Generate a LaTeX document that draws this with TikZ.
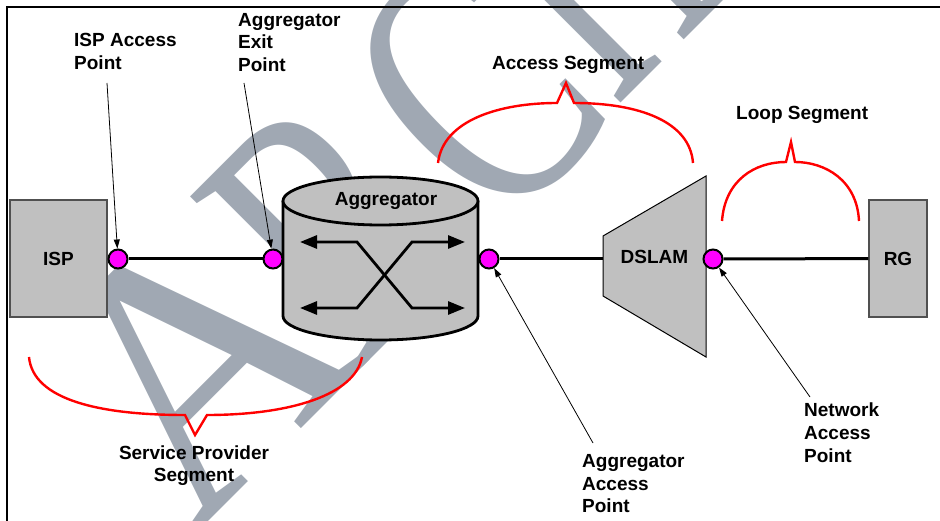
\documentclass[tikz,border=0pt]{standalone}
\usepackage{fontspec}
\setmainfont{Liberation Sans}
\newfontfamily\wmfont{Liberation Serif}
\usetikzlibrary{arrows.meta}
\definecolor{boxgrey}{RGB}{192,192,192}
\definecolor{wmgrey}{RGB}{160,168,179}
\definecolor{edgegrey}{RGB}{80,80,80}
\definecolor{apink}{RGB}{255,0,255}
\definecolor{segred}{RGB}{255,0,0}
\begin{document}
\begin{tikzpicture}[x=1pt,y=-1pt,
  lbl/.style={font=\bfseries\fontsize{19pt}{22.7pt}\selectfont, inner sep=0pt},
  wm/.style={anchor=base west, rotate=45, inner sep=0pt, text=wmgrey,
             font=\wmfont\fontsize{370pt}{370pt}\selectfont},
  unitbox/.style={draw=edgegrey, line width=1.2pt, fill=boxgrey, inner sep=0pt,
             font=\bfseries\fontsize{19pt}{22.7pt}\selectfont},
  apdot/.style={circle, draw=black, line width=2pt, fill=apink,
             minimum size=19pt, inner sep=0pt},
  link/.style={line width=3pt},
  pointer/.style={line width=0.8pt, -{Triangle[length=9pt,width=6pt]}},
  swarrow/.style={line width=2.8pt, {Triangle[length=17pt,width=13pt]}-{Triangle[length=17pt,width=13pt]}},
  brace/.style={draw=segred, line width=2.4pt, line join=miter},
  frameline/.style={line width=2pt}]
\useasboundingbox (0,0) rectangle (940,521);

% background watermark lettering
\begin{scope}
  \clip (0,0) rectangle (940,521);
  \node[wm, xscale=0.95] (wmA) at (192.5,537.5) {A};
  \node[wm, xscale=0.70] (wmR) at (356.5,373.5) {R};
  \node[wm, xscale=0.70] (wmC) at (499,237) {C};
  \node[wm, xscale=0.60] (wmH) at (616,108) {H};
\end{scope}

% page frame
\draw[frameline] (7,521) -- (7,7) -- (940,7);

% end boxes
\node[unitbox, minimum width=97pt, minimum height=117pt] (isp) at (58.5,258.5) {ISP};
\node[unitbox, minimum width=58pt, minimum height=117pt] (rg) at (898,258.5) {RG};

% aggregator cylinder
\fill[boxgrey] (283,201) rectangle (478,316);
\fill[boxgrey] (380.5,316) ellipse[x radius=97.5, y radius=24];
\draw[line width=2.8pt] (283,201) -- (283,316)
  .. controls (283,329.3) and (326.65,340) .. (380.5,340)
  .. controls (434.35,340) and (478,329.3) .. (478,316) -- (478,201);
\draw[line width=2.8pt, fill=boxgrey] (380.5,201) ellipse[x radius=97.5, y radius=24];
\node[lbl, anchor=base] (aggname) at (386,206) {Aggregator};
\draw[swarrow] (300,242) -- (357,242) -- (412,308) -- (465,308);
\draw[swarrow] (300,308) -- (357,308) -- (412,242) -- (465,242);

% DSLAM
\draw[line width=1pt, fill=boxgrey] (603,236) -- (706,176) -- (706,357) -- (603,296) -- cycle;
\node[lbl] (dslam) at (654.5,257) {DSLAM};
\coordinate (dslamin) at (603,259);

% access points
\node[apdot] (ispap) at (118,259) {};
\node[apdot] (exitap) at (273,259) {};
\node[apdot] (aggap) at (489,259) {};
\node[apdot] (netap) at (713,259) {};

% links
\draw[link] (ispap) -- (exitap);
\draw[link] (aggap) -- (dslamin);
\draw[link] (netap) -- (rg);

% segment braces
\draw[brace] (438,163) .. controls (443,120) and (500,103) .. (557,103)
  -- (566,83) -- (574,103) .. controls (640,103) and (690,122) .. (693,163);
\draw[brace] (722,221) .. controls (725,180) and (755,162) .. (786,162)
  -- (791,142) -- (795,162) .. controls (825,162) and (857,180) .. (859,221);
\draw[brace] (29,357) .. controls (33,400) and (100,415) .. (185,415)
  -- (195,435) -- (207,415) .. controls (290,415) and (355,395) .. (362,357);

% labels (positioned by the baseline of their last line)
\node[lbl, anchor=base west, align=left] (lIspAp) at (74,69.3) {ISP Access\\Point};
\node[lbl, anchor=base west, align=left] (lExit) at (238,71.7) {Aggregator\\Exit\\Point};
\node[lbl, anchor=base west] (lAccSeg) at (492,69.3) {Access Segment};
\node[lbl, anchor=base west] (lLoop) at (736,119.3) {Loop Segment};
\node[lbl, anchor=base, align=center] (lSP) at (194,481.7) {Service Provider\\Segment};
\node[lbl, anchor=base west, align=left] (lAggAp) at (582,512.7) {Aggregator\\Access\\Point};
\node[lbl, anchor=base west, align=left] (lNetAp) at (804,462.3) {Network\\Access\\Point};

% pointers from labels to access points
\coordinate (tIspAp) at (107,83);
\coordinate (tExit) at (244,83);
\coordinate (tAggAp) at (593,443);
\coordinate (tNetAp) at (810,397);
\draw[pointer] (tIspAp) -- (ispap);
\draw[pointer] (tExit) -- (exitap);
\draw[pointer] (tAggAp) -- (aggap);
\draw[pointer] (tNetAp) -- (netap);
\end{tikzpicture}
\end{document}
